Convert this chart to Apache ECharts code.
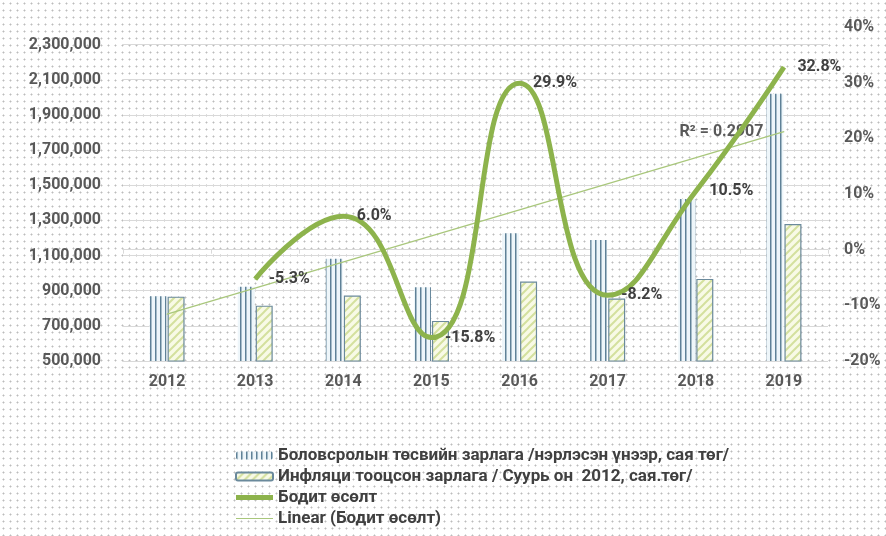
<!DOCTYPE html>
<html>
<head>
<meta charset="utf-8">
<script src="https://cdn.jsdelivr.net/npm/echarts@6/dist/echarts.min.js"></script>
<style>
  html, body { margin: 0; padding: 0; background: #fff; }
  #chart {
    width: 886px; height: 536px;
    background-color: #fff;
    background-image: radial-gradient(circle, #bcbcbc 0.8px, transparent 1.2px);
    background-size: 7px 7px;
  }
</style>
</head>
<body>
<div id="chart"></div>
<script>
  const years = ['2012', '2013', '2014', '2015', '2016', '2017', '2018', '2019']
  // Боловсролын төсвийн зарлага, нэрлэсэн үнээр
  const nominalSpend = [868000, 923000, 1081000, 919000, 1227000, 1189000, 1421000, 2020000]
  // Инфляци тооцсон зарлага
  const realSpend = [866000, 815000, 872000, 728000, 952000, 855000, 967000, 1279000]
  // Бодит өсөлт, %
  const realGrowth = [null, -5.3, 6.0, -15.8, 29.9, -8.2, 10.5, 32.8]
  // Linear trend endpoints
  const trendLine = [-11.6, null, null, null, null, null, null, 21.2]
  const trendR2 = 'R² = 0.2907'

  const seriesNames = [
    'Боловсролын төсвийн зарлага /нэрлэсэн үнээр, сая төг/',
    'Инфляци тооцсон зарлага / Суурь он  2012, сая.төг/',
    'Бодит өсөлт',
    'Linear (Бодит өсөлт)'
  ]

  function makePattern(w, h, draw) {
    const c = document.createElement('canvas')
    c.width = w
    c.height = h
    draw(c.getContext('2d'))
    return c
  }

  // narrow vertical lines
  const vertPattern = makePattern(5, 10, ctx => {
    ctx.fillStyle = '#eef6fa'
    ctx.fillRect(0, 0, 5, 10)
    ctx.fillStyle = '#5f8197'
    ctx.fillRect(0, 0, 1.5, 10)
  })

  // light diagonal hatch
  const hatchPattern = makePattern(8, 8, ctx => {
    ctx.fillStyle = '#f8fae6'
    ctx.fillRect(0, 0, 8, 8)
    ctx.strokeStyle = '#d4e09e'
    ctx.lineWidth = 2
    ctx.beginPath()
    ctx.moveTo(0, 8); ctx.lineTo(8, 0)
    ctx.moveTo(-2, 2); ctx.lineTo(2, -2)
    ctx.moveTo(6, 10); ctx.lineTo(10, 6)
    ctx.stroke()
  })

  const fmt = v => v.toLocaleString('en-US')
  const labelFont = { fontFamily: 'Roboto', fontSize: 16, fontWeight: 'bold', color: '#595959' }
  const lineGreen = '#8db34c'
  const trendGreen = '#a9c77c'

  const chart = echarts.init(document.getElementById('chart'), null, { renderer: 'canvas' })
  chart.setOption({
    backgroundColor: 'transparent',
    textStyle: { fontFamily: 'Roboto' },
    grid: { left: 123, right: 58, top: 27, bottom: 175 },
    legend: {
      orient: 'vertical',
      left: 230,
      top: 442,
      itemWidth: 37,
      itemHeight: 8,
      itemGap: 4,
      data: [
        { name: seriesNames[0] },
        { name: seriesNames[1] },
        { name: seriesNames[2], icon: 'path://M0,0 H37 V5 H0 Z', itemStyle: { color: lineGreen } },
        { name: seriesNames[3], icon: 'path://M0,0 H37 V1.2 H0 Z', itemStyle: { color: trendGreen } }
      ],
      textStyle: { fontFamily: 'Roboto', fontSize: 17, fontWeight: 'bold', color: '#404040' }
    },
    xAxis: {
      type: 'category',
      data: years,
      axisLine: { lineStyle: { color: '#d9d9d9' } },
      axisTick: { show: true, length: 4, lineStyle: { color: '#d9d9d9' } },
      axisLabel: Object.assign({ margin: 13 }, labelFont)
    },
    yAxis: [
      {
        type: 'value',
        min: 500000,
        max: 2400000,
        interval: 200000,
        axisLine: { show: false },
        axisTick: { show: false },
        splitLine: { showMaxLine: false, lineStyle: { color: '#d9d9d9' } },
        axisLabel: Object.assign({ margin: 22, showMaxLabel: false, formatter: fmt }, labelFont)
      },
      {
        type: 'value',
        min: -20,
        max: 40,
        interval: 10,
        axisLine: { show: false },
        axisTick: { show: false },
        splitLine: { show: false },
        axisLabel: Object.assign({ margin: 16, formatter: '{value}%' }, labelFont)
      }
    ],
    series: [
      {
        name: seriesNames[0],
        type: 'bar',
        data: nominalSpend,
        barWidth: 17,
        barGap: '6%',
        itemStyle: { color: { image: vertPattern, repeat: 'repeat' } }
      },
      {
        name: seriesNames[1],
        type: 'bar',
        data: realSpend,
        barWidth: 17,
        itemStyle: {
          color: { image: hatchPattern, repeat: 'repeat' },
          borderColor: '#6b8a9c',
          borderWidth: 1.2
        }
      },
      {
        name: seriesNames[2],
        type: 'line',
        yAxisIndex: 1,
        data: realGrowth,
        smooth: 0.5,
        symbol: 'circle',
        symbolSize: 1,
        z: 5,
        lineStyle: { width: 5, color: lineGreen },
        itemStyle: { color: lineGreen },
        label: {
          show: true,
          position: 'right',
          distance: 13,
          fontFamily: 'Roboto',
          fontSize: 16,
          fontWeight: 'bold',
          color: '#404040',
          formatter: p => p.value.toFixed(1) + '%'
        }
      },
      {
        name: seriesNames[3],
        type: 'line',
        yAxisIndex: 1,
        connectNulls: true,
        symbol: 'circle',
        symbolSize: 1,
        z: 4,
        lineStyle: { width: 1.3, color: trendGreen },
        itemStyle: { color: trendGreen },
        data: trendLine.map((v, i) => i === trendLine.length - 1
          ? { value: v, label: { show: true, position: 'left', distance: 20, formatter: trendR2,
              fontFamily: 'Roboto', fontSize: 16, fontWeight: 'bold', color: '#595959' } }
          : v)
      }
    ]
  })
</script>
</body>
</html>
